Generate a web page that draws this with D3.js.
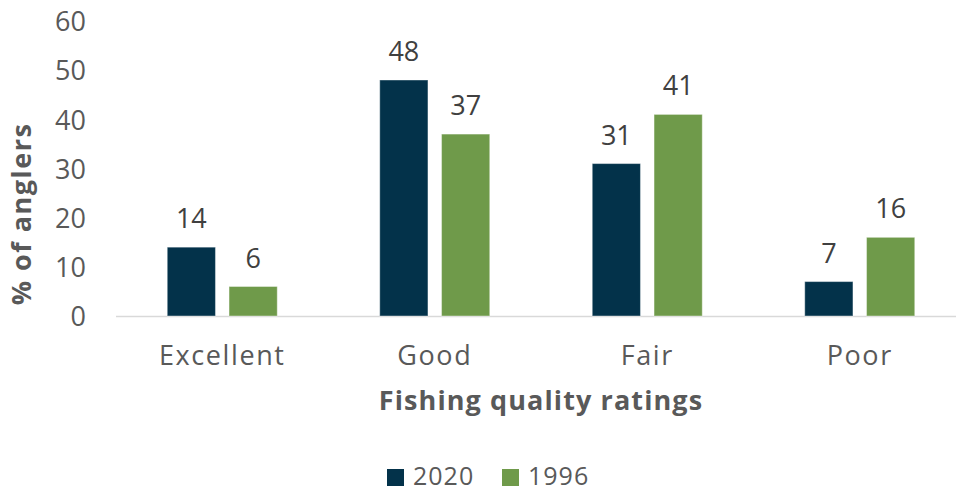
<!DOCTYPE html>
<html><head><meta charset="utf-8">
<script src="https://cdn.jsdelivr.net/npm/d3@7"></script>
<style>body{margin:0;background:#fff}svg{display:block}text{font-family:"Open Sans",sans-serif}</style>
</head><body><div id="c"></div>
<script>
const categories = ["Excellent","Good","Fair","Poor"];
const seriesNames = ["2020","1996"];
const values2020 = [14,48,31,7];
const values1996 = [6,37,41,16];
const yTicks = [0,10,20,30,40,50,60];
const colors = ["#03324a","#6f9a4a"];

const W=956,H=493;
const svg=d3.select("#c").append("svg").attr("width",W).attr("height",H);
const x=d3.scaleBand().domain(categories).range([116,966]).paddingInner(0).paddingOuter(0);
const y=d3.scaleLinear().domain([0,60]).range([316,21]);
const xs=d3.scaleBand().domain(seriesNames).range([-55,55]).paddingInner(0.22);
const txt="#595959";

// y axis labels
const ya=svg.append("g").attr("transform","translate(86,0)").call(d3.axisLeft(y).tickValues(yTicks).tickSize(0).tickPadding(0));
ya.select(".domain").remove();
ya.selectAll("text").attr("font-size",27).attr("fill",txt).attr("font-family","Open Sans").attr("dy","0.36em");

// baseline
svg.append("line").attr("x1",116).attr("x2",W).attr("y1",y(0)+0.5).attr("y2",y(0)+0.5).attr("stroke","#d9d9d9").attr("stroke-width",1.5);

const data=categories.map((c,i)=>({c,v:[values2020[i],values1996[i]]}));
const g=svg.selectAll(".grp").data(data).enter().append("g").attr("transform",d=>`translate(${x(d.c)+x.bandwidth()/2},0)`);
g.selectAll("rect").data(d=>d.v.map((v,j)=>({v,s:seriesNames[j],j}))).enter().append("rect")
 .attr("x",d=>xs(d.s)).attr("width",xs.bandwidth()).attr("y",d=>y(d.v)).attr("height",d=>y(0)-y(d.v))
 .attr("fill",d=>colors[d.j]).attr("stroke","#fff").attr("stroke-opacity",0.4).attr("stroke-width",1);
g.selectAll(".lbl").data(d=>d.v.map((v,j)=>({v,s:seriesNames[j]}))).enter().append("text")
 .attr("x",d=>xs(d.s)+xs.bandwidth()/2).attr("y",d=>y(d.v)-19).attr("text-anchor","middle")
 .attr("font-size",27).attr("fill","#404040").text(d=>d.v);

// x axis labels
const xa=svg.append("g").attr("transform",`translate(0,${y(0)})`).call(d3.axisBottom(x).tickSize(0).tickPadding(0));
xa.select(".domain").remove();
xa.selectAll("text").attr("font-size",27).attr("fill",txt).attr("font-family","Open Sans").attr("letter-spacing",1.6).attr("dy",0).attr("y",49);

svg.append("text").attr("x",541).attr("y",410).attr("text-anchor","middle").attr("font-size",27).attr("font-weight","bold").attr("letter-spacing",1.1).attr("fill",txt).text("Fishing quality ratings");
svg.append("text").attr("transform","translate(31,214) rotate(-90)").attr("text-anchor","middle").attr("font-size",27).attr("font-weight","bold").attr("letter-spacing",1.5).attr("fill",txt).text("% of anglers");

// legend
const lx=[387,502];
const lg=svg.selectAll(".leg").data(seriesNames).enter().append("g").attr("transform",(d,i)=>`translate(${lx[i]},469)`);
lg.append("rect").attr("width",17).attr("height",17).attr("fill",(d,i)=>colors[i]);
lg.append("text").attr("x",26).attr("y",16).attr("font-size",25).attr("letter-spacing",1).attr("fill",txt).text(d=>d);
</script></body></html>
